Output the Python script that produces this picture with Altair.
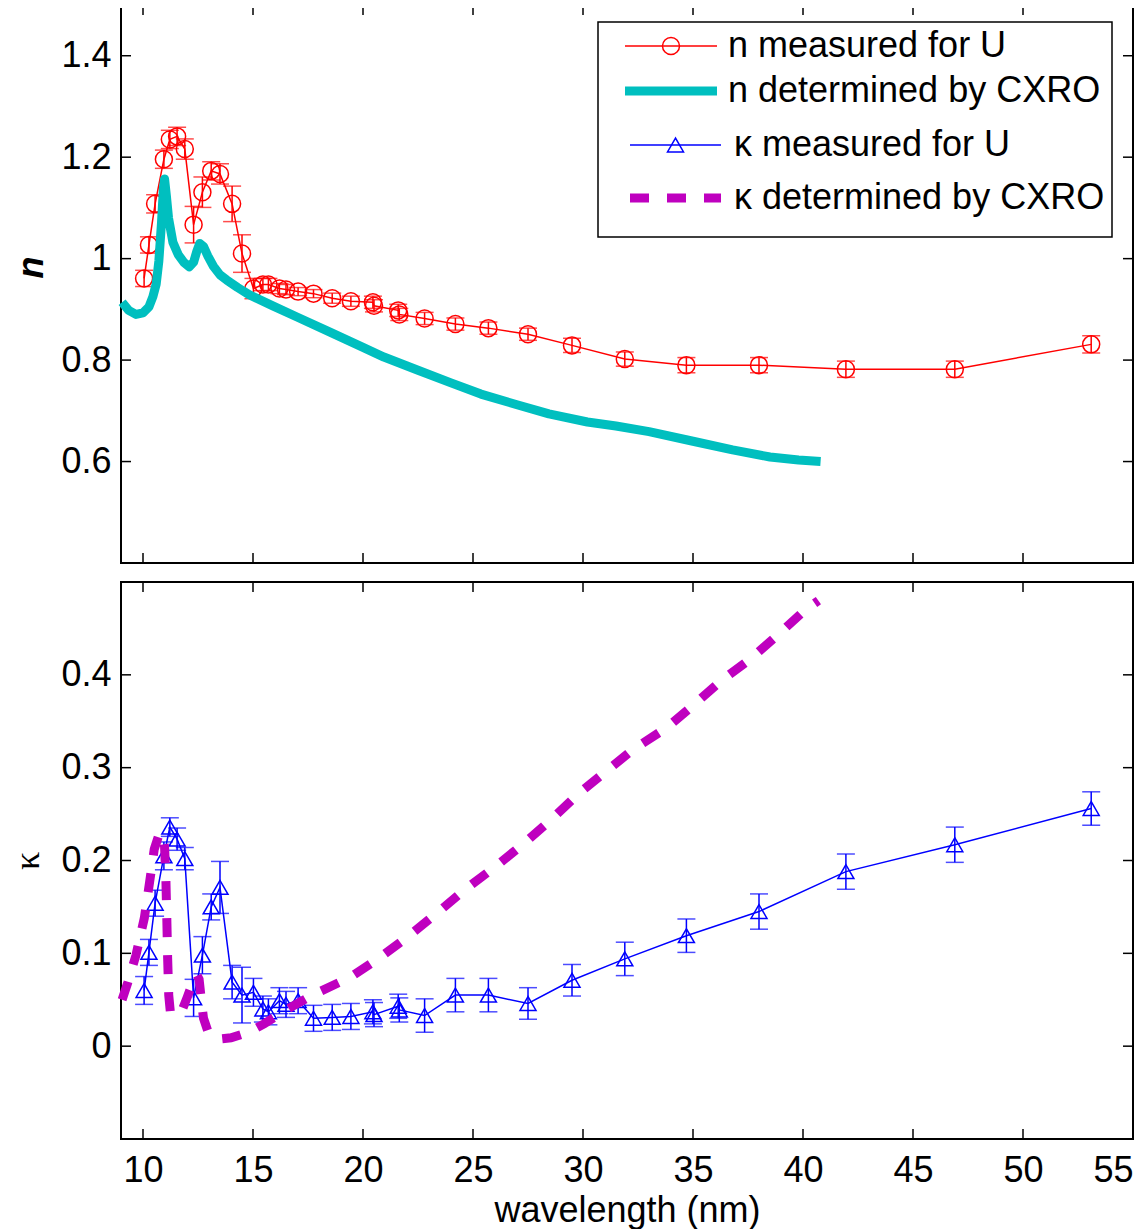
import altair as alt
import pandas as pd

# ---------------- data ----------------
LAM = [10.05, 10.27, 10.55, 10.95, 11.22, 11.55, 11.9, 12.3, 12.7, 13.1, 13.5, 14.05,
       14.5, 15.02, 15.45, 15.7, 16.2, 16.5, 17.05, 17.75, 18.6, 19.45, 20.45, 20.5,
       21.6, 21.65, 22.8, 24.2, 25.7, 27.5, 29.5, 31.9, 34.7, 38.0, 41.95, 46.9, 53.1]
N_MEAS = [0.961, 1.027, 1.108, 1.196, 1.235, 1.241, 1.216, 1.067, 1.131, 1.173, 1.167, 1.108,
          1.010, 0.941, 0.949, 0.949, 0.941, 0.939, 0.935, 0.931, 0.922, 0.916, 0.914, 0.907,
          0.898, 0.890, 0.882, 0.871, 0.863, 0.851, 0.829, 0.802, 0.790, 0.790, 0.782, 0.782, 0.831]
N_ERR = [0.016, 0.016, 0.018, 0.018, 0.018, 0.018, 0.020, 0.036, 0.030, 0.018, 0.020, 0.035,
         0.037, 0.020, 0.012, 0.012, 0.010, 0.010, 0.008, 0.008, 0.010, 0.010, 0.012, 0.012,
         0.012, 0.012, 0.012, 0.012, 0.012, 0.012, 0.014, 0.014, 0.015, 0.015, 0.016, 0.016, 0.017]
K_MEAS = [0.060, 0.101, 0.154, 0.205, 0.236, 0.223, 0.202, 0.052, 0.098, 0.150, 0.171, 0.069,
          0.055, 0.058, 0.040, 0.037, 0.049, 0.045, 0.049, 0.030, 0.031, 0.032, 0.037, 0.034,
          0.043, 0.039, 0.033, 0.055, 0.055, 0.046, 0.071, 0.094, 0.119, 0.145, 0.188, 0.217, 0.256]
K_ERR = [0.015, 0.014, 0.014, 0.015, 0.010, 0.012, 0.012, 0.020, 0.020, 0.014, 0.028, 0.018,
         0.030, 0.015, 0.014, 0.014, 0.014, 0.014, 0.014, 0.014, 0.014, 0.014, 0.013, 0.013,
         0.013, 0.013, 0.018, 0.018, 0.018, 0.017, 0.017, 0.018, 0.018, 0.019, 0.019, 0.019, 0.018]

CXRO_N_LAM = [9.05, 9.35, 9.68, 10.0, 10.27, 10.45, 10.6, 10.72, 10.84, 10.93, 10.98, 11.06,
              11.16, 11.36, 11.6, 11.85, 12.1, 12.3, 12.45, 12.58, 12.75, 12.95, 13.2, 13.5,
              13.8, 14.3, 14.82, 15.9, 17.0, 18.5, 20.0, 20.95, 22.5, 24.0, 25.36, 27.0,
              28.45, 30.2, 31.5, 33.0, 35.0, 36.8, 38.5, 39.8, 40.8]
CXRO_N = [0.914, 0.898, 0.890, 0.893, 0.905, 0.925, 0.950, 0.995, 1.070, 1.140, 1.157, 1.125,
          1.080, 1.032, 1.008, 0.993, 0.984, 0.993, 1.015, 1.030, 1.024, 1.005, 0.985, 0.968,
          0.958, 0.943, 0.929, 0.907, 0.885, 0.855, 0.825, 0.806, 0.780, 0.755, 0.733, 0.712,
          0.694, 0.678, 0.670, 0.659, 0.640, 0.623, 0.609, 0.603, 0.600]

CXRO_K_LAM = [9.05, 9.3, 9.68, 10.06, 10.29, 10.51, 10.7, 10.88, 10.98, 11.04, 11.08, 11.12,
              11.17, 11.25, 11.5, 11.8, 12.0, 12.25, 12.45, 12.55, 12.65, 12.75, 12.95, 13.2,
              13.6, 14.0, 14.8, 15.5, 16.5, 17.7, 19.4, 20.8, 22.1, 23.5, 24.6, 26.1, 27.3,
              28.6, 29.8, 31.1, 32.3, 33.8, 35.1, 36.3, 37.6, 38.9, 40.1, 40.7]
CXRO_K = [0.050, 0.068, 0.098, 0.138, 0.175, 0.212, 0.226, 0.230, 0.215, 0.180, 0.140, 0.095,
          0.055, 0.035, 0.034, 0.040, 0.052, 0.068, 0.077, 0.072, 0.050, 0.030, 0.016, 0.010,
          0.008, 0.009, 0.015, 0.024, 0.039, 0.055, 0.074, 0.096, 0.119, 0.146, 0.168, 0.195,
          0.218, 0.245, 0.272, 0.297, 0.320, 0.343, 0.369, 0.394, 0.417, 0.444, 0.470, 0.480]

XTICKS = [10, 15, 20, 25, 30, 35, 40, 45, 50, 55]
N_YTICKS = [0.6, 0.8, 1.0, 1.2, 1.4]
K_YTICKS = [0.0, 0.1, 0.2, 0.3, 0.4]
LEGEND_LABELS = ["n measured for U", "n determined by CXRO",
                 "\u03ba measured for U", "\u03ba determined by CXRO"]

# ---------------- styles ----------------
RED, CYAN, BLUE, MAGENTA = "#FF0000", "#00BFBF", "#0000FF", "#BF00BF"
FONT = "Liberation Sans"
FS = 36
W, H_TOP, H_BOT = 1012, 558, 557
TICK_LEN = 10
DASH = [19, 18]

meas = pd.DataFrame({"lam": LAM, "n": N_MEAS, "nerr": N_ERR, "k": K_MEAS, "kerr": K_ERR})
cxro_n = pd.DataFrame({"lam": CXRO_N_LAM, "n": CXRO_N})
cxro_k = pd.DataFrame({"lam": CXRO_K_LAM, "k": CXRO_K})

x_scale = alt.Scale(domain=[9, 55], nice=False, zero=False)
n_scale = alt.Scale(domain=[0.4, 1.5], nice=False, zero=False)
k_scale = alt.Scale(domain=[-0.1, 0.5], nice=False, zero=False)

x_axis = alt.Axis(values=XTICKS, format="d", title="wavelength (nm)",
                  labelFont=FONT, labelFontSize=FS, labelPadding=14, labelFlush=True,
                  titleFont=FONT, titleFontSize=FS, titleFontWeight="normal", titlePadding=5)
n_axis = alt.Axis(values=N_YTICKS, format="~g", title="n",
                  labelFont=FONT, labelFontSize=FS, labelPadding=10,
                  titleFont=FONT, titleFontSize=FS, titleFontWeight="bold",
                  titleFontStyle="italic", titlePadding=10, titleY=262)
k_axis = alt.Axis(values=K_YTICKS, format="~g", title="\u03ba",
                  labelFont=FONT, labelFontSize=FS, labelPadding=10,
                  titleFont="Liberation Serif", titleFontSize=FS, titleFontWeight="normal",
                  titlePadding=14)


def X(field, axis):
    return alt.X(f"{field}:Q", scale=x_scale, axis=axis)


def Y(field, scale, axis):
    return alt.Y(f"{field}:Q", scale=scale, axis=axis)


def frame_ticks(yticks, scale, yaxis, xaxis, h):
    xt = alt.Chart(pd.DataFrame({"lam": XTICKS}))
    yt = alt.Chart(pd.DataFrame({"v": yticks}))
    st = dict(color="black", strokeWidth=1.5)
    return [
        xt.mark_rule(**st).encode(x=X("lam", xaxis), y=alt.value(h), y2=alt.value(h - TICK_LEN)),
        xt.mark_rule(**st).encode(x=X("lam", xaxis), y=alt.value(0), y2=alt.value(TICK_LEN)),
        yt.mark_rule(**st).encode(y=Y("v", scale, yaxis), x=alt.value(0), x2=alt.value(TICK_LEN)),
        yt.mark_rule(**st).encode(y=Y("v", scale, yaxis), x=alt.value(W - TICK_LEN), x2=alt.value(W)),
    ]


def measured(field, err, scale, yaxis, xaxis, color, shape, size):
    base = alt.Chart(meas).transform_calculate(
        lo=f"datum.{field} - datum.{err}", hi=f"datum.{field} + datum.{err}")
    bars = base.mark_rule(color=color, strokeWidth=1.5).encode(
        x=X("lam", xaxis), y=Y("lo", scale, yaxis), y2="hi:Q")
    cap_lo = base.mark_tick(color=color, orient="horizontal", size=18, thickness=1.5).encode(
        x=X("lam", xaxis), y=Y("lo", scale, yaxis))
    cap_hi = base.mark_tick(color=color, orient="horizontal", size=18, thickness=1.5).encode(
        x=X("lam", xaxis), y=Y("hi", scale, yaxis))
    line = alt.Chart(meas).mark_line(color=color, strokeWidth=1.5).encode(
        x=X("lam", xaxis), y=Y(field, scale, yaxis))
    pts = alt.Chart(meas).mark_point(shape=shape, filled=False, size=size, color=color,
                                     strokeWidth=1.5, opacity=1).encode(
        x=X("lam", xaxis), y=Y(field, scale, yaxis))
    return [bars, cap_lo, cap_hi, line, pts]


one = alt.Data(values=[{"i": 0}])


def legend_layers():
    box = alt.Chart(one).mark_rect(fill="white", stroke="black", strokeWidth=1.5).encode(
        x=alt.value(477), x2=alt.value(991), y=alt.value(17), y2=alt.value(232))
    rows = [
        dict(y=41, x0=504, x1=596, color=RED, width=1.5, dash=None, shape="circle", size=289, tx=607),
        dict(y=86, x0=504, x1=596, color=CYAN, width=9, dash=None, shape=None, size=0, tx=607),
        dict(y=140, x0=509, x1=600, color=BLUE, width=1.5, dash=None, shape="triangle-up", size=256, tx=613),
        dict(y=193, x0=509, x1=600, color=MAGENTA, width=9, dash=DASH, shape=None, size=0, tx=613),
    ]
    layers = [box]
    for label, r in zip(LEGEND_LABELS, rows):
        kw = dict(color=r["color"], strokeWidth=r["width"], strokeCap="butt")
        if r["dash"]:
            kw["strokeDash"] = r["dash"]
        layers.append(alt.Chart(one).mark_rule(**kw).encode(
            x=alt.value(r["x0"]), x2=alt.value(r["x1"]), y=alt.value(r["y"])))
        if r["shape"]:
            layers.append(alt.Chart(one).mark_point(
                shape=r["shape"], filled=False, size=r["size"], color=r["color"],
                strokeWidth=1.5, opacity=1).encode(
                x=alt.value((r["x0"] + r["x1"]) / 2), y=alt.value(r["y"])))
        layers.append(alt.Chart(one).mark_text(
            align="left", baseline="middle", font=FONT, fontSize=FS, color="black").encode(
            x=alt.value(r["tx"]), y=alt.value(r["y"]), text=alt.value(label)))
    return layers


top_layers = measured("n", "nerr", n_scale, n_axis, None, RED, "circle", 289)
top_layers.append(alt.Chart(cxro_n).mark_line(color=CYAN, strokeWidth=9, strokeJoin="round").encode(
    x=X("lam", None), y=Y("n", n_scale, n_axis)))
top_layers += frame_ticks(N_YTICKS, n_scale, n_axis, None, H_TOP)
top_layers += legend_layers()
top = alt.layer(*top_layers).properties(width=W, height=H_TOP)

bot_layers = measured("k", "kerr", k_scale, k_axis, x_axis, BLUE, "triangle-up", 256)
bot_layers.append(alt.Chart(cxro_k).mark_line(color=MAGENTA, strokeWidth=9, strokeDash=DASH,
                                              strokeCap="butt").encode(
    x=X("lam", x_axis), y=Y("k", k_scale, k_axis)))
bot_layers += frame_ticks(K_YTICKS, k_scale, k_axis, x_axis, H_BOT)
bottom = alt.layer(*bot_layers).properties(width=W, height=H_BOT)

chart = alt.vconcat(top, bottom, spacing=15).properties(
    padding={"left": 0, "top": -5, "right": 0, "bottom": 0}
).configure_view(stroke="black", strokeWidth=2).configure_axis(
    domain=False, ticks=False, grid=False, labelColor="black", titleColor="black")

chart.save("out.html", embed_options={"renderer": "svg", "actions": False})
